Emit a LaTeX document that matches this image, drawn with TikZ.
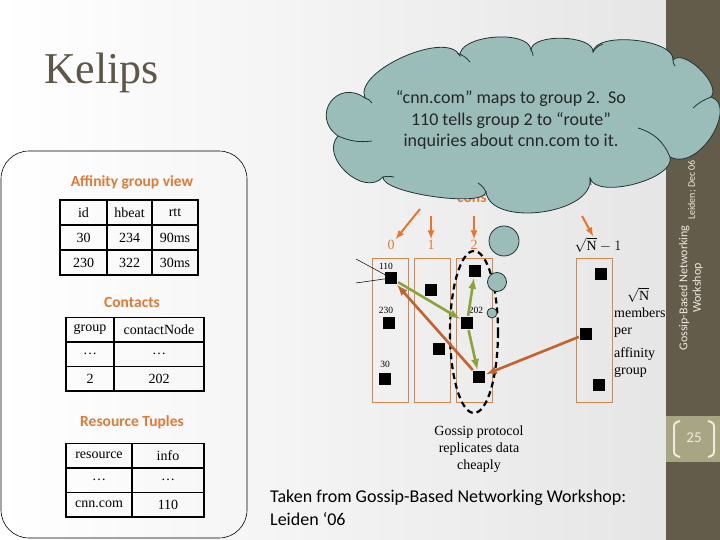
\documentclass[tikz,border=0pt]{standalone}
\usepackage{fontspec}
\setmainfont{Liberation Serif}
\newfontfamily\calibfont{Carlito}
\usetikzlibrary{positioning}

\definecolor{titlecol}{HTML}{5E5747}
\definecolor{hdrorange}{HTML}{E07A35}
\definecolor{colorange}{HTML}{D4874A}
\definecolor{arrorange}{HTML}{E8752A}
\definecolor{gossipgreen}{HTML}{8BA33A}
\definecolor{backbrown}{HTML}{C5612C}
\definecolor{cloudfill}{HTML}{9BBDBA}
\definecolor{clouddraw}{HTML}{1F3535}
\definecolor{sidebar}{HTML}{645C4A}
\definecolor{sideband}{HTML}{A8A583}
\definecolor{sidetext}{HTML}{EDEBE0}

\tikzset{
  cell/.style={draw,line width=1.5pt,minimum height=25pt,inner sep=0pt,font=\fontsize{14}{16}\selectfont},
  heading/.style={text=hdrorange,font=\calibfont\bfseries\fontsize{15.5}{18}\selectfont},
  sq/.style={fill=black,minimum size=12pt,inner sep=0pt},
  grp/.style={draw=colorange,line width=0.9pt,minimum width=36pt,minimum height=144pt,inner sep=0pt},
  grplabel/.style={text=hdrorange,font=\fontsize{14}{16}\selectfont,inner sep=1pt},
  idlabel/.style={font=\fontsize{9.5}{11}\selectfont,inner sep=0pt},
  toparrow/.style={draw=arrorange,line width=2pt,-latex},
  gossip/.style={draw=gossipgreen,line width=2.6pt,-latex,shorten <=1pt,shorten >=1pt},
  backarrow/.style={draw=backbrown,line width=2.6pt,-latex,shorten <=1pt,shorten >=1pt},
  thought/.style={circle,draw=clouddraw,fill=cloudfill,inner sep=0pt,line width=0.8pt},
  puffline/.style={draw=clouddraw,line width=0.8pt},
}

\begin{document}
\begin{tikzpicture}[x=1pt,y=-1pt]
  \useasboundingbox (0,0) rectangle (720,540);
  \shade[left color=white,right color=black!10] (0,0) rectangle (666,540);

  % title
  \node[anchor=base west,text=titlecol,font=\fontsize{44}{48}\selectfont,inner sep=0pt] (title) at (44,84) {Kelips};

  % node state box
  \draw[line width=0.6pt,rounded corners=28pt] (1,151) rectangle (247,538);

  \node[heading] (affhead) at (132,182) {Affinity group view};
  \node[cell,minimum width=47pt] (a11) at (83.5,212.5) {id};
  \node[cell,minimum width=45pt] (a12) at (129.5,212.5) {hbeat};
  \node[cell,minimum width=46pt] (a13) at (175,212.5) {rtt};
  \node[cell,minimum width=47pt] (a21) at (83.5,237.5) {30};
  \node[cell,minimum width=45pt] (a22) at (129.5,237.5) {234};
  \node[cell,minimum width=46pt] (a23) at (175,237.5) {90ms};
  \node[cell,minimum width=47pt] (a31) at (83.5,262.5) {230};
  \node[cell,minimum width=45pt] (a32) at (129.5,262.5) {322};
  \node[cell,minimum width=46pt] (a33) at (175,262.5) {30ms};

  \node[heading] (conhead) at (132,302) {Contacts};
  \node[cell,minimum width=48pt,minimum height=24.5pt] (c11) at (90,329.5) {group};
  \node[cell,minimum width=90pt,minimum height=24.5pt] (c12) at (159,329.5) {contactNode};
  \node[cell,minimum width=48pt,minimum height=24.5pt] (c21) at (90,354) {\dots};
  \node[cell,minimum width=90pt,minimum height=24.5pt] (c22) at (159,354) {\dots};
  \node[cell,minimum width=48pt,minimum height=24.5pt] (c31) at (90,378.5) {2};
  \node[cell,minimum width=90pt,minimum height=24.5pt] (c32) at (159,378.5) {202};

  \node[heading] (reshead) at (132,422) {Resource Tuples};
  \node[cell,minimum width=66pt,minimum height=24.5pt] (r11) at (99,455.5) {resource};
  \node[cell,minimum width=72pt,minimum height=24.5pt] (r12) at (168,455.5) {info};
  \node[cell,minimum width=66pt,minimum height=24.5pt] (r21) at (99,480) {\dots};
  \node[cell,minimum width=72pt,minimum height=24.5pt] (r22) at (168,480) {\dots};
  \node[cell,minimum width=66pt,minimum height=24.5pt] (r31) at (99,504.5) {cnn.com};
  \node[cell,minimum width=72pt,minimum height=24.5pt] (r32) at (168,504.5) {110};

  % affinity groups
  \node[grp] (g0) at (390,330) {};
  \node[grp] (g1) at (432,330) {};
  \node[grp] (g2) at (474,330) {};
  \node[grp] (gn) at (594.5,330) {};

  \node[grplabel] (l0) at (391,245) {0};
  \node[grplabel] (l1) at (431,245) {1};
  \node[grplabel] (l2) at (474,245) {2};
  \node[font=\fontsize{14}{16}\selectfont,inner sep=1pt] (ln) at (598,245) {$\sqrt{\mathrm{N}}-1$};

  \node[heading,anchor=base west,inner sep=0pt] (cons) at (457,203) {cons};

  \coordinate (h0) at (420,209);
  \coordinate (h1) at (431,216);
  \coordinate (h2) at (474,216);
  \coordinate (hn) at (582,216);
  \draw[toparrow] (h0) -- (l0);
  \draw[toparrow] (h1) -- (l1);
  \draw[toparrow] (h2) -- (l2);
  \draw[toparrow] (hn) -- (ln);

  % members
  \node[sq] (n110) at (391,278) {};
  \node[sq] (n230) at (389,323) {};
  \node[sq] (n30) at (385,379) {};
  \node[sq] (m1a) at (431,290) {};
  \node[sq] (m1b) at (439,349) {};
  \node[sq] (m2a) at (475,271) {};
  \node[sq] (n202) at (467,323) {};
  \node[sq] (m2c) at (479,377) {};
  \node[sq] (mna) at (601,274) {};
  \node[sq] (mnb) at (586,334) {};
  \node[sq] (mnc) at (599,385) {};

  \node[idlabel] (t110) at (386,266) {110};
  \node[idlabel] (t230) at (386,310) {230};
  \node[idlabel] (t30) at (385,364) {30};
  \node[idlabel] (t202) at (476,310) {202};

  \coordinate (w1) at (356,259);
  \coordinate (w2) at (356,283);
  \draw[line width=0.5pt] (w1) -- (n110.center);
  \draw[line width=0.5pt] (w2) -- (n110.center);

  \draw[line width=2.2pt,dash pattern=on 6pt off 4pt] (474,332) ellipse [x radius=24,y radius=81];

  \draw[gossip] (n110) -- (n202);
  \draw[gossip] (n202) -- (m2a);
  \draw[gossip] (n202) -- (m2c);
  \draw[backarrow] (m2c) -- (n110);
  \draw[backarrow] (mnb) -- (m2c);

  \node[anchor=north west,align=left,font=\fontsize{14}{17}\selectfont,inner sep=0pt] (mtext) at (614,287)
    {\hspace*{13pt}$\sqrt{\mathrm{N}}$\\members\\per\\[6pt]affinity\\group};

  \node[align=center,font=\fontsize{14}{17}\selectfont] (gossiptxt) at (479,449)
    {Gossip protocol\\replicates data\\cheaply};

  \node[anchor=north west,align=left,font=\calibfont\fontsize{18}{23}\selectfont,inner sep=0pt] (source) at (270,490)
    {Taken from Gossip-Based Networking Workshop:\\Leiden ‘06};

  % side bar
  \fill[sidebar] (666,0) rectangle (720,540);
  \fill[sideband] (666,416) rectangle (720,462);
  \draw[sidetext,line width=2pt,rounded corners=3pt] (680,421) -- (674,423) -- (674,455) -- (680,457);
  \draw[sidetext,line width=2pt,rounded corners=3pt] (708,421) -- (714,423) -- (714,455) -- (708,457);
  \node[text=sidetext,font=\calibfont\fontsize{15}{17}\selectfont] (pageno) at (694,438) {25};
  \node[rotate=90,text=sidetext,font=\calibfont\fontsize{10}{12}\selectfont] (leiden) at (692,190) {Leiden; Dec 06};
  \node[rotate=90,align=center,text=sidetext,font=\calibfont\fontsize{12}{13.5}\selectfont] (gbn) at (691,288) {Gossip-Based Networking\\Workshop};

  % thought cloud
  \node[thought,minimum size=30pt] (b1) at (504,241) {};
  \node[thought,minimum size=19pt] (b2) at (497,282) {};
  \node[thought,minimum size=10pt] (b3) at (492,313) {};
  \draw[puffline,fill=cloudfill] (338,136)
    .. controls (310,116) and (337,78) .. (365,98)
    .. controls (353,71) and (448,29) .. (460,56)
    .. controls (458,35) and (529,29) .. (531,50)
    .. controls (532,33) and (594,35) .. (593,52)
    .. controls (595,31) and (675,39) .. (673,60)
    .. controls (684,48) and (722,85) .. (711,97)
    .. controls (738,105) and (700,172) .. (670,157)
    .. controls (676,179) and (596,200) .. (590,178)
    .. controls (595,214) and (491,228) .. (486,192)
    .. controls (484,208) and (381,193) .. (383,177)
    .. controls (364,198) and (319,157) .. (338,136) -- cycle;
  % inner puff arcs
  \draw[puffline] (338,136) to[bend right=15] (372,141);
  \draw[puffline] (365,98) to[bend left=20] (372,103);
  \draw[puffline] (457,53) to[bend left=15] (470,62);
  \draw[puffline] (531,50) to[bend left=20] (533,56);
  \draw[puffline] (593,52) to[bend left=20] (603,44);
  \draw[puffline] (673,60) to[bend right=20] (675,66);
  \draw[puffline] (711,97) to[bend right=10] (693,108);
  \draw[puffline] (670,157) to[bend right=25] (638,128);
  \draw[puffline] (590,178) to[bend left=10] (591,185);
  \draw[puffline] (486,192) to[bend right=15] (478,183);
  \draw[puffline] (383,177) to[bend left=10] (394,177);
  \node[align=center,text=black!85,font=\calibfont\fontsize{18}{21.5}\selectfont] (bubbletxt) at (511,120)
    {“cnn.com” maps to group 2.\ \ So\\110 tells group 2 to “route”\\inquiries about cnn.com to it.};
\end{tikzpicture}
\end{document}
